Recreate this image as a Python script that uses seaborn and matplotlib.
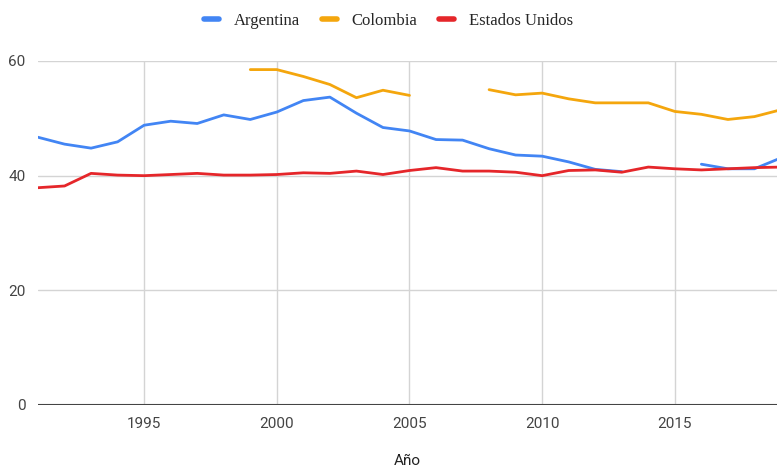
import numpy as np
import pandas as pd
import matplotlib
matplotlib.use("Agg")
import matplotlib.pyplot as plt
import seaborn as sns

nan = np.nan
years = list(range(1991, 2020))
argentina = [46.7, 45.5, 44.8, 45.9, 48.8, 49.5, 49.1, 50.6, 49.8, 51.1,
             53.1, 53.7, 50.9, 48.4, 47.8, 46.3, 46.2, 44.7, 43.6, 43.4,
             42.4, 41.1, 40.7, nan, nan, 42.0, 41.2, 41.2, 43.1]
colombia = [nan, nan, nan, nan, nan, nan, nan, nan, 58.5, 58.5,
            57.3, 55.9, 53.6, 54.9, 54.0, nan, nan, 55.0, 54.1, 54.4,
            53.4, 52.7, 52.7, 52.7, 51.2, 50.7, 49.8, 50.3, 51.5]
estados_unidos = [37.9, 38.2, 40.4, 40.1, 40.0, 40.2, 40.4, 40.1, 40.1, 40.2,
                  40.5, 40.4, 40.8, 40.2, 40.9, 41.4, 40.8, 40.8, 40.6, 40.0,
                  40.9, 41.0, 40.6, 41.5, 41.2, 41.0, 41.2, 41.4, 41.5]

series_names = ["Argentina", "Colombia", "Estados Unidos"]
series_values = [argentina, colombia, estados_unidos]
colors = ["#4285F4", "#F4A60D", "#E5262A"]
x_ticks = [1995, 2000, 2005, 2010, 2015]
y_ticks = [0, 20, 40, 60]

sns.set_theme(style="white")
plt.rcParams["font.family"] = ["Roboto", "DejaVu Sans"]

fig = plt.figure(figsize=(7.77, 4.74), dpi=100)
ax = fig.add_axes([38 / 777, 69 / 474, 739 / 777, 344 / 474])

handles = []
for name, vals, col in zip(series_names, series_values, colors):
    df = pd.DataFrame({"Año": years, "valor": vals})
    # break the line wherever a year has no value
    seg_id = df["valor"].isna().cumsum()
    first = None
    for _, seg in df.dropna().groupby(seg_id[df["valor"].notna()]):
        sns.lineplot(data=seg, x="Año", y="valor", ax=ax, color=col,
                     linewidth=2, estimator=None, legend=False)
        if first is None:
            first = ax.lines[-1]
    handles.append(first)

ax.set_xlim(1991, 2018.85)
ax.set_ylim(0, 60)
ax.set_xticks(x_ticks)
ax.set_yticks(y_ticks)
ax.grid(True, color="#d4d4d4", linewidth=1)
ax.set_axisbelow(True)
for s in ax.spines.values():
    s.set_visible(False)
ax.axhline(0, color="#444444", linewidth=1.5, zorder=1)
ax.tick_params(axis="both", length=0, labelsize=11, labelcolor="#444444")
ax.tick_params(axis="x", pad=9)
ax.tick_params(axis="y", pad=9)
ax.set_xlabel("Año", fontsize=11, color="#222222", labelpad=16)
ax.set_ylabel("")

fig.legend(handles, series_names, loc="center", bbox_to_anchor=(0.5, 1 - 21 / 474),
           ncol=3, frameon=False, handlelength=0.9, handletextpad=0.9,
           columnspacing=1.3, prop={"family": "Liberation Serif", "size": 12})
for h in fig.legends[0].legend_handles:
    h.set_linewidth(4)

fig.savefig("out.png", dpi=100)
